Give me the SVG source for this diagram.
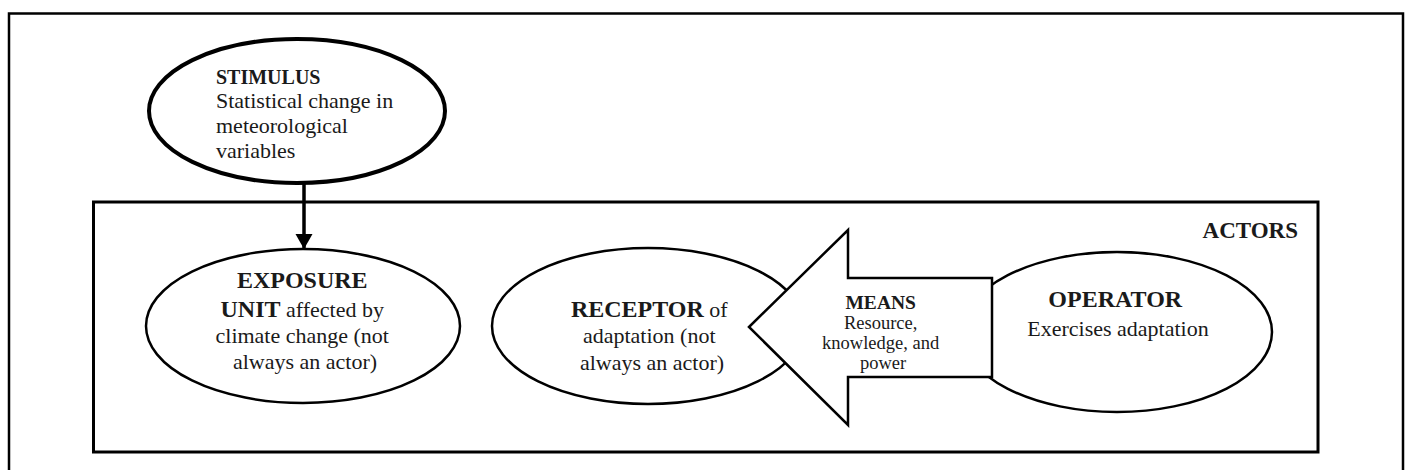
<svg xmlns="http://www.w3.org/2000/svg" width="1406" height="470" viewBox="0 0 1406 470">
  <style>
    .t { font-family: "Liberation Serif", "Times New Roman", "DejaVu Serif", serif; fill: #1a1a1a; }
    .b { font-weight: bold; }
    .node { fill: #fff; stroke: #000; stroke-width: 2.5; }
  </style>
  <defs>
    <marker id="ah" markerWidth="5" markerHeight="5" refX="4.4" refY="2.5" orient="auto" markerUnits="strokeWidth">
      <path d="M0,0 L4.4,2.5 L0,5 Z" fill="#000"/>
    </marker>
  </defs>
  <rect width="1406" height="470" fill="#fff"/>
  <g id="frame">
    <path d="M9,480 L9,13.5 L1403,13.5 L1403,480" fill="none" stroke="#000" stroke-width="2.5"/>
  </g>
  <g id="actors">
    <rect x="93.5" y="202" width="1224.5" height="250" fill="none" stroke="#000" stroke-width="3"/>
    <text class="t b" x="1298" y="238" font-size="23" text-anchor="end">ACTORS</text>
  </g>
  <g id="stimulus">
    <ellipse cx="297" cy="111" rx="148" ry="72" fill="#fff" stroke="#000" stroke-width="4"/>
    <text class="t" x="216" font-size="22">
      <tspan class="b" x="216" y="84" font-size="20">STIMULUS</tspan>
      <tspan x="216" y="108">Statistical change in</tspan>
      <tspan x="216" y="133">meteorological</tspan>
      <tspan x="216" y="158">variables</tspan>
    </text>
  </g>
  <g id="exposure">
    <ellipse class="node" cx="303" cy="326" rx="157" ry="77"/>
    <text class="t" font-size="22" text-anchor="middle">
      <tspan class="b" x="305" y="288" font-size="24">EXPOSURE</tspan>
      <tspan x="305" y="317"><tspan class="b" font-size="24">UNIT</tspan> affected by</tspan>
      <tspan x="305" y="343">climate change (not</tspan>
      <tspan x="305" y="369">always an actor)</tspan>
    </text>
  </g>
  <g id="receptor">
    <ellipse class="node" cx="648" cy="326" rx="156" ry="78"/>
    <text class="t" font-size="22" text-anchor="middle">
      <tspan x="652" y="317"><tspan class="b" font-size="24">RECEPTOR</tspan> of</tspan>
      <tspan x="652" y="343">adaptation (not</tspan>
      <tspan x="652" y="370">always an actor)</tspan>
    </text>
  </g>
  <g id="operator">
    <ellipse class="node" cx="1117" cy="332" rx="155" ry="80"/>
    <text class="t" font-size="22" text-anchor="middle">
      <tspan class="b" x="1118" y="307" font-size="24">OPERATOR</tspan>
      <tspan x="1118" y="336">Exercises adaptation</tspan>
    </text>
  </g>
  <g id="means">
    <path class="node" d="M749,327 L848,230 L848,278 L992,278 L992,377 L848,377 L848,425 Z" stroke-linejoin="miter"/>
    <text class="t" font-size="18.5" text-anchor="middle">
      <tspan class="b" x="883" y="309" font-size="19.5">MEANS</tspan>
      <tspan x="883" y="329">Resource,</tspan>
      <tspan x="883" y="349">knowledge, and</tspan>
      <tspan x="883" y="369">power</tspan>
    </text>
  </g>
  <g id="connectors">
    <line x1="304" y1="183" x2="304" y2="249" stroke="#000" stroke-width="3.5" marker-end="url(#ah)"/>
  </g>
</svg>
